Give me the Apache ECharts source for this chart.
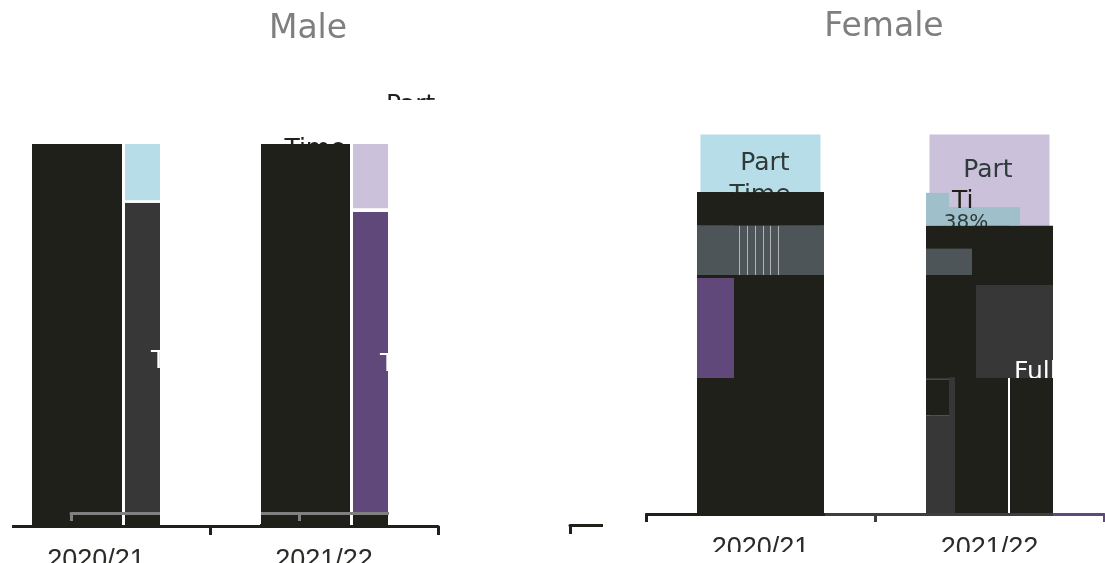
<!DOCTYPE html>
<html>
<head>
<meta charset="utf-8">
<style>html,body{margin:0;padding:0;background:#fff;overflow:hidden}#c{width:1105px;height:563px}</style>
<script src="https://cdn.jsdelivr.net/npm/echarts@6/dist/echarts.min.js"></script>
</head>
<body>
<div id="c"></div>
<script>
const categories = ['2020/21', '2021/22'];
const panelTitles = ['Male', 'Female'];

// Male: stacked values, read bottom to top (% of column height)
const maleTotal = [100];
const male2020Stack = [3.1, 81.5, 0.7, 14.7];
const male2021Stack = [3.1, 79.1, 1.0, 16.8];

// Female: stacked values, read bottom to top
const femalePartBackdrop = [100];
const female2020A = [35.7, 26.0, 0.8, 12.8, 8.8];
const female2020B = [62.5, 12.8, 8.8];
const female2021A = [26.0, 9.2, 0.5, 26.8, 6.8, 6.0, 8.6];
const female2021B = [35.7, 26.8, 6.8, 6.0, 4.9];
const female2021C = [62.5, 6.8, 6.0, 4.9];
const female2021D = [75.3, 4.9];
const female2021E = [35.7, 24.2, 15.4, 4.9];
const female2021F = [35.7, 24.2, 15.4];

const K = '#1f201a', D = '#363736', W = '#ffffff', B = '#b7dde8', L = '#ccc1da',
      P = '#60497a', S = '#4d5559', T = '#9fc0cb', G = '#aeb3b5';

const xAxes = [], series = [];
const yAxis = [0, 1, 2, 3].map(g => ({gridIndex: g, type: 'value', min: 0, max: 100, show: false}));

function addBar(grid, cat, columns, z) {
  const axis = xAxes.length;
  xAxes.push({gridIndex: grid, type: 'category', data: categories, show: false});
  columns.forEach((col, c) => {
    col.values.forEach((v, i) => {
      const color = col.colors[i];
      series.push({
        type: 'bar', silent: true, animation: false,
        xAxisIndex: axis, yAxisIndex: grid,
        stack: 'a' + axis + 'c' + c,
        barWidth: col.width, barGap: 0,
        z: z !== undefined ? z : (color === K ? 4 : 2),
        itemStyle: col.border ? {color, borderColor: W, borderWidth: col.border} : {color},
        data: categories.map((_, k) => (k === cat ? v : null))
      });
    });
  });
}

// main axes first
const axisFont = {fontFamily: 'Liberation Sans', fontSize: 27, color: '#2a2a26'};
xAxes.push({
  gridIndex: 0, type: 'category', data: categories, z: 5,
  axisLine: {lineStyle: {color: K, width: 3}},
  axisTick: {show: true, length: 9, lineStyle: {color: K, width: 3}},
  axisLabel: Object.assign({margin: 21}, axisFont)
});
const femaleStroke = {type: 'linear', x: 646, y: 0, x2: 1104, y2: 0, global: true, colorStops: [
  {offset: 0, color: K}, {offset: 0.39, color: K}, {offset: 0.39, color: '#3e3e3e'},
  {offset: 0.889, color: '#3e3e3e'}, {offset: 0.889, color: P}, {offset: 1, color: P}]};
xAxes.push({
  gridIndex: 1, type: 'category', data: categories, z: 5, offset: -1,
  axisLine: {lineStyle: {color: femaleStroke, width: 3}},
  axisTick: {show: true, length: 8, lineStyle: {color: femaleStroke, width: 3}},
  axisLabel: Object.assign({margin: 21}, axisFont)
});
xAxes.push({
  gridIndex: 2, type: 'category', data: categories, z: 5,
  axisLine: {lineStyle: {color: K, width: 3}},
  axisTick: {show: true, length: 9, lineStyle: {color: K, width: 3}},
  axisLabel: {show: false}
});
xAxes.push({
  gridIndex: 3, type: 'category', data: categories, z: 5,
  axisLine: {lineStyle: {color: '#808080', width: 3}},
  axisTick: {show: true, length: 8, lineStyle: {color: '#808080', width: 3}},
  axisLabel: {show: false}
});

addBar(0, 0, [
  {width: 90, values: maleTotal, colors: [K]},
  {width: 3, values: maleTotal, colors: [W]},
  {width: 35, values: male2020Stack, colors: [K, D, W, B]}
]);
addBar(0, 1, [
  {width: 90, values: maleTotal, colors: [K]},
  {width: 3, values: maleTotal, colors: [W]},
  {width: 35, values: male2021Stack, colors: [K, P, W, L]}
]);

addBar(1, 0, [{width: 127, values: femalePartBackdrop, colors: [B], border: 3.5}], 1);
addBar(1, 1, [{width: 127, values: femalePartBackdrop, colors: [L], border: 3.5}], 1);

const plain = w => ({width: w, values: female2020B, colors: [K, S, K]});
const stripe = () => ({width: 1, values: female2020B, colors: [K, G, K]});
addBar(1, 0, [
  {width: 37, values: female2020A, colors: [K, P, K, S, K]},
  plain(5), stripe(), plain(7), stripe(), plain(7), stripe(), plain(7), stripe(),
  plain(6), stripe(), plain(7), stripe(), plain(45)
]);
addBar(1, 1, [
  {width: 23, values: female2021A, colors: [D, K, D, K, S, K, T]},
  {width: 6, values: female2021B, colors: [D, K, S, K, T]},
  {width: 17, values: female2021C, colors: [K, S, K, T]},
  {width: 4, values: female2021D, colors: [K, T]},
  {width: 32, values: female2021E, colors: [K, D, K, T]},
  {width: 2, values: female2021E, colors: [W, D, K, T]},
  {width: 10, values: female2021E, colors: [K, D, K, T]},
  {width: 33, values: female2021F, colors: [K, D, K]}
]);

const labelFont = 'DejaVu Sans';
function txt(x, y, text, fill, size, align) {
  return {type: 'text', z: 3, silent: true, x, y,
    style: {text, fill, font: (size || 25) + 'px "' + labelFont + '"', textAlign: align || 'center', textVerticalAlign: 'middle'}};
}
function mask(x, y, width, height) {
  return {type: 'rect', z: 10, silent: true, shape: {x, y, width, height}, style: {fill: '#fff'}};
}

const option = {
  animation: false,
  backgroundColor: '#fff',
  title: [
    {text: panelTitles[0], left: 303, top: 8, textAlign: 'center', textStyle: {fontFamily: labelFont, fontSize: 33, fontWeight: 'normal', color: '#7f7f7f'}},
    {text: panelTitles[1], left: 879, top: 6, textAlign: 'center', textStyle: {fontFamily: labelFont, fontSize: 33, fontWeight: 'normal', color: '#7f7f7f'}}
  ],
  grid: [
    {left: -18, width: 456, top: 144, height: 382, outerBoundsMode: 'none'},
    {left: 646, width: 458, top: 131, height: 384, outerBoundsMode: 'none'},
    {left: 570, width: 458, top: 131, height: 394, outerBoundsMode: 'none'},
    {left: 71, width: 456, top: 144, height: 369, outerBoundsMode: 'none'}
  ],
  xAxis: xAxes,
  yAxis,
  series,
  graphic: [
    txt(765, 163, 'Part', '#2f3a3a'),
    txt(760, 195, 'Time', '#2f3a3a'),
    txt(988, 170, 'Part', '#2f3a3a'),
    txt(952, 201, 'Ti', '#1f201a', 25, 'left'),
    txt(966, 223, '38%', '#2f3a3a', 20),
    txt(1014, 372, 'Full', '#ffffff', 25, 'left'),
    txt(151, 361, 'T', '#ffffff', 25, 'left'),
    txt(380, 364, 'T', '#ffffff', 25, 'left'),
    txt(315, 149, 'Time', '#1f201a'),
    txt(386, 105, 'Part', '#1f201a', 25, 'left'),
    mask(380, 100, 80, 30),
    mask(160, 130, 101, 394),
    mask(389, 130, 160, 394),
    mask(0, 515, 12, 30),
    mask(440, 500, 205, 23),
    mask(603, 523, 502, 12),
    mask(603, 552, 502, 11),
    mask(1053, 131, 52, 381),
    mask(824, 131, 101, 381)
  ]
};
echarts.init(document.getElementById('c'), null, {renderer: 'canvas'}).setOption(option);
</script>
</body>
</html>
